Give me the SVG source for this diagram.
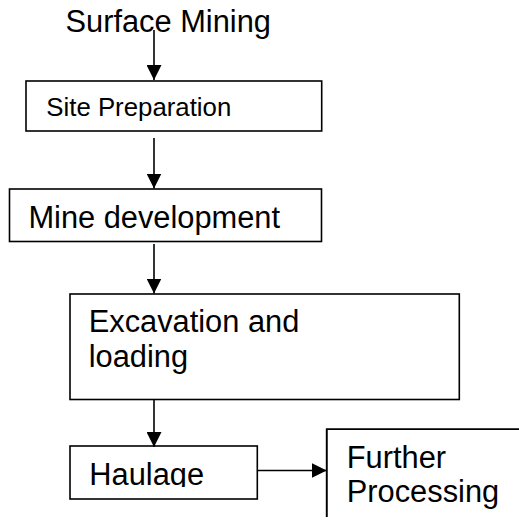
<svg xmlns="http://www.w3.org/2000/svg" width="519" height="528" viewBox="0 0 519 528">
<style>
.box{fill:#fff;stroke:#000;stroke-width:1.6}
.t{font-family:"Liberation Sans",Arial,sans-serif;font-size:30.8px;fill:#000}
.s{font-size:25.8px}
.c{stroke:#000;stroke-width:1.6;fill:none;marker-end:url(#ah)}
</style>
<defs>
<marker id="ah" markerUnits="userSpaceOnUse" markerWidth="15" markerHeight="15" refX="15" refY="7.5" orient="auto">
<path d="M0,0 L15,7.5 L0,15 z" fill="#000"/>
</marker>
<clipPath id="hclip"><rect x="70" y="446" width="188" height="41"/></clipPath>
</defs>
<rect width="519" height="528" fill="#fff"/>
<g id="surface-mining"><text class="t" x="65.5" y="32.3">Surface Mining</text></g>
<g id="site-preparation"><rect class="box" x="26" y="81" width="295.7" height="50"/><text class="t s" x="46.3" y="115.7">Site Preparation</text></g>
<g id="mine-development"><rect class="box" x="9.5" y="189" width="312" height="52.5"/><text class="t" x="28.4" y="227.7">Mine development</text></g>
<g id="excavation"><rect class="box" x="70" y="294" width="389.3" height="105.5"/><text class="t" x="88.7" y="332.3">Excavation and</text><text class="t" x="88.7" y="367.3">loading</text></g>
<g id="haulage"><rect class="box" x="70" y="446" width="187.3" height="53"/><text class="t" x="89.3" y="485" clip-path="url(#hclip)">Haulage</text></g>
<g id="further-processing"><path class="box" d="M326.7,517 V429.3 H522 V540 H326.7" fill="#fff" stroke="none"/><path d="M326.7,517 V429.3 H522" fill="none" stroke="#000" stroke-width="1.6"/><text class="t" x="346.8" y="467.7">Further</text><text class="t" x="346.8" y="501.7">Processing</text></g>
<g id="connectors">
<line class="c" x1="154" y1="30" x2="154" y2="80"/>
<line class="c" x1="154" y1="138" x2="154" y2="188.5"/>
<line class="c" x1="154" y1="244" x2="154" y2="293.5"/>
<line class="c" x1="154" y1="400" x2="154" y2="447"/>
<line class="c" x1="257.3" y1="470.5" x2="326.7" y2="470.5"/>
</g>
</svg>
